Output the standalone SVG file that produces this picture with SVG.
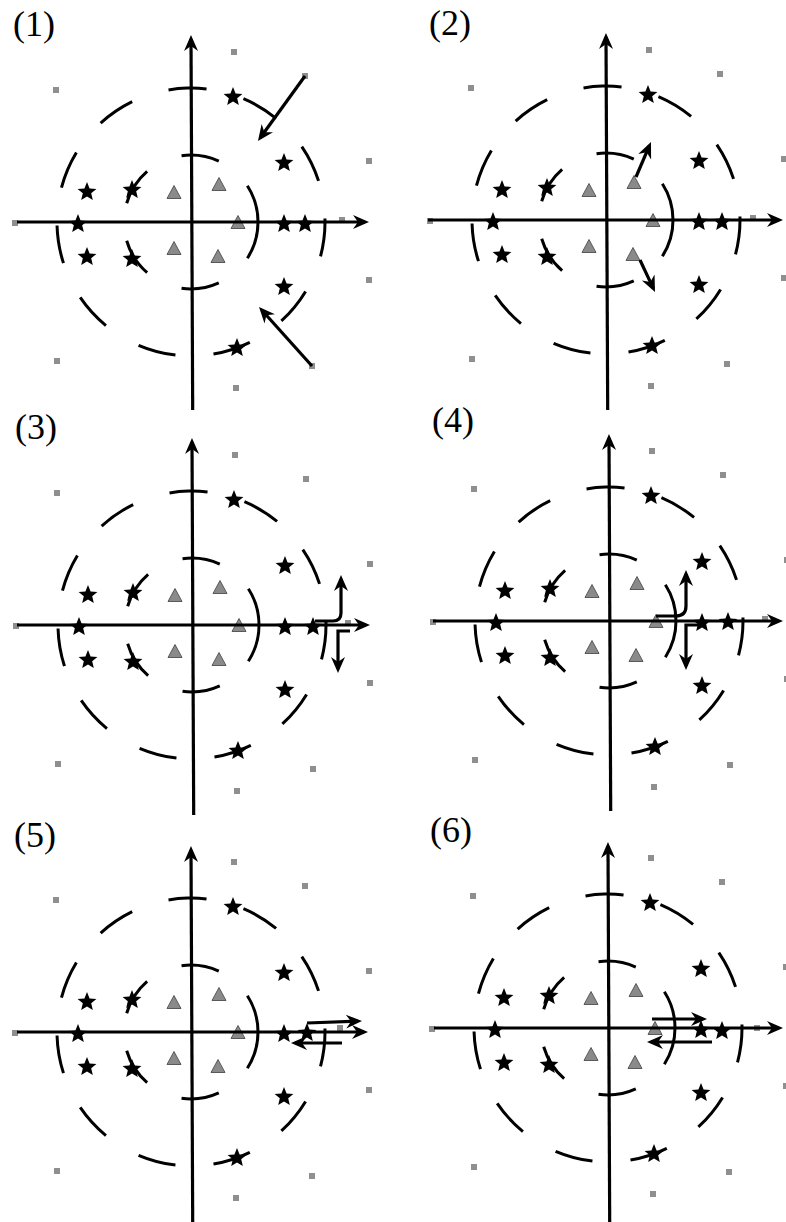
<svg xmlns="http://www.w3.org/2000/svg" width="786" height="1222" viewBox="0 0 786 1222">
<style>
.lbl{font-family:"Liberation Serif","Times New Roman",serif;font-size:36px;fill:#000}
.ax{stroke:#000;stroke-width:3.2;fill:none;marker-end:url(#ah)}
.oc{fill:none;stroke:#000;stroke-width:3}
.arr{stroke:#000;stroke-width:3.2;fill:none;marker-end:url(#ah)}
</style>
<defs>
<marker id="ah" markerUnits="userSpaceOnUse" viewBox="-18 -9 20 18" refX="-4" refY="0" markerWidth="20" markerHeight="18" orient="auto">
<path d="M0,0 L-16,-7 L-11,0 L-16,7 Z" fill="#000"/>
</marker>
<path id="st" d="M0,-9 L2.35,-3.24 L8.56,-2.78 L3.8,1.24 L5.29,7.28 L0,4 L-5.29,7.28 L-3.8,1.24 L-8.56,-2.78 L-2.35,-3.24 Z" fill="#000" transform="scale(1.1)"/>
<path id="tr" d="M0,-7.5 L7,5.5 L-7,5.5 Z" fill="#8a8a8a" stroke="#4d4d4d" stroke-width="0.9"/>
<rect id="sq" x="-3" y="-3" width="6" height="6" fill="#8f8f8f"/>
<g id="base">
<circle r="134" class="oc" pathLength="22" stroke-dasharray="1 1" transform="rotate(-1.5)"/>
<circle r="67" class="oc" pathLength="11" stroke-dasharray="1 1"/>
<use href="#st" x="42" y="-125"/>
<use href="#st" x="93" y="-59"/>
<use href="#st" x="93" y="2"/>
<use href="#st" x="93" y="65"/>
<use href="#st" x="46" y="126"/>
<use href="#st" x="-113" y="2"/>
<use href="#st" x="-104" y="-30"/>
<use href="#st" x="-104" y="35"/>
<use href="#st" x="-59" y="-32"/>
<use href="#st" x="-59" y="37"/>
<use href="#tr" x="-17" y="-29"/>
<use href="#tr" x="28" y="-37"/>
<use href="#tr" x="47" y="1"/>
<use href="#tr" x="-17" y="27"/>
<use href="#tr" x="27" y="35"/>
<use href="#sq" x="43" y="-170"/>
<use href="#sq" x="114" y="-146"/>
<use href="#sq" x="-135" y="-132"/>
<use href="#sq" x="178" y="-61"/>
<use href="#sq" x="-176" y="1"/>
<use href="#sq" x="178" y="58"/>
<use href="#sq" x="-134" y="139"/>
<use href="#sq" x="121" y="144"/>
<use href="#sq" x="45" y="166"/>
</g>
</defs>
<rect width="786" height="1222" fill="#fff"/>

<g id="panel1" transform="translate(191,222)">
<use href="#base"/>
<use href="#st" x="114" y="2"/>
<use href="#sq" x="151" y="-2"/>
<line class="ax" x1="-174" y1="0" x2="174" y2="0"/>
<line class="ax" x1="1.7" y1="188" x2="0" y2="-183"/>
</g>
<g id="panel2" transform="translate(606,220)">
<use href="#base"/>
<use href="#st" x="116" y="2"/>
<use href="#sq" x="147" y="-2"/>
<line class="ax" x1="-178" y1="0" x2="173" y2="0"/>
<line class="ax" x1="1.7" y1="190" x2="0" y2="-183"/>
</g>
<g id="panel3" transform="translate(192,625)">
<use href="#base"/>
<use href="#st" x="121" y="2"/>
<use href="#sq" x="156" y="-2"/>
<line class="ax" x1="-175" y1="0" x2="174" y2="0"/>
<line class="ax" x1="1.7" y1="190" x2="0" y2="-183"/>
</g>
<g id="panel4" transform="translate(609,621)">
<use href="#base"/>
<use href="#st" x="119" y="1"/>
<use href="#sq" x="156" y="-2"/>
<line class="ax" x1="-176" y1="0" x2="170" y2="0"/>
<line class="ax" x1="1.7" y1="190" x2="0" y2="-183"/>
</g>
<g id="panel5" transform="translate(191,1032)">
<use href="#base"/>
<use href="#st" x="116" y="1"/>
<use href="#sq" x="149" y="-4"/>
<line class="ax" x1="-174" y1="0" x2="173" y2="0"/>
<line class="ax" x1="1.7" y1="190" x2="0" y2="-182"/>
</g>
<g id="panel6" transform="translate(608,1028)">
<use href="#base"/>
<use href="#st" x="114" y="3"/>
<use href="#sq" x="149" y="0"/>
<line class="ax" x1="-174" y1="0" x2="171" y2="0"/>
<line class="ax" x1="1.7" y1="194" x2="0" y2="-182"/>
</g>

<g id="labels">
<text class="lbl" x="13" y="36">(1)</text>
<text class="lbl" x="429" y="35">(2)</text>
<text class="lbl" x="15" y="439">(3)</text>
<text class="lbl" x="432" y="432">(4)</text>
<text class="lbl" x="14" y="847">(5)</text>
<text class="lbl" x="430" y="842">(6)</text>
</g>

<g id="connectors">
<line class="arr" x1="305" y1="76" x2="260.3" y2="137.8"/>
<line class="arr" x1="312" y1="366" x2="261.7" y2="310"/>
<line class="arr" x1="636" y1="177" x2="649.4" y2="145.7"/>
<line class="arr" x1="640" y1="260" x2="653.3" y2="288.4"/>
<path class="arr" d="M315,621 H333 Q341,621 341,613 V579"/>
<path class="arr" d="M350,631 H338 V669"/>
<path class="arr" d="M656,616 H676 Q686,616 686,606 V574"/>
<path class="arr" d="M700,625 H686 V666"/>
<line class="arr" x1="307" y1="1023" x2="358" y2="1021.2"/>
<line class="arr" x1="342" y1="1043" x2="295" y2="1043"/>
<line class="arr" x1="652" y1="1019" x2="703" y2="1019"/>
<line class="arr" x1="712" y1="1042" x2="651" y2="1042"/>
</g>
</svg>
